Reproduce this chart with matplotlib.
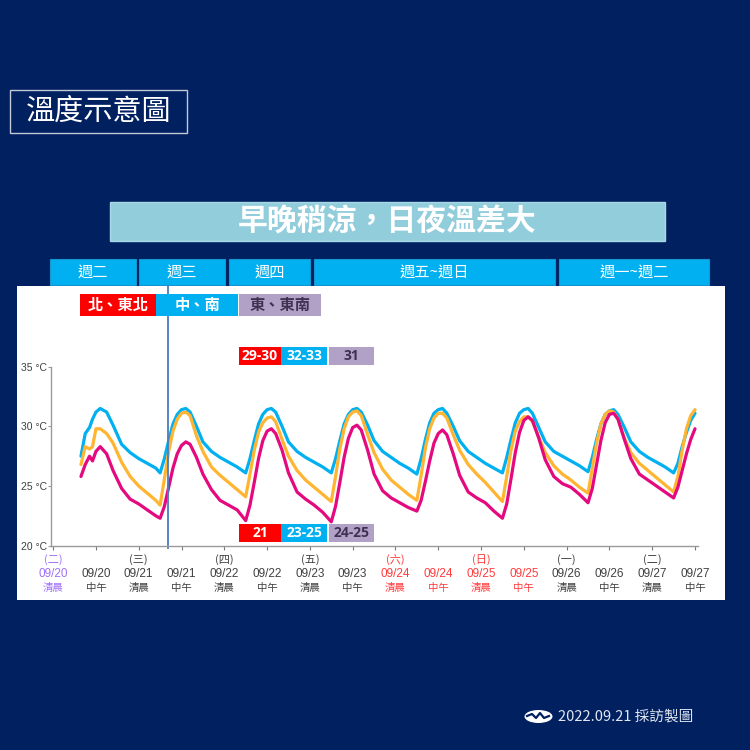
import matplotlib
matplotlib.use("Agg")
import matplotlib.pyplot as plt
from matplotlib.patches import Rectangle, Ellipse

plt.rcParams["font.family"] = ["Noto Sans CJK TC", "DejaVu Sans"]

NAVY = "#002060"
SKY = "#00b0f0"
ORANGE = "#ffb531"
MAGENTA = "#e5097f"
RED = "#ff0000"
LAVENDER = "#b2a1c7"
LAV_TEXT = "#403151"

# time axis in tick units (0 = 09/20 清晨, 1 = 09/20 中午, ...)
hours = [0.65, 0.75, 0.85, 0.92, 1.0, 1.1, 1.25, 1.4, 1.6, 1.8, 2.0, 2.2, 2.4,
         2.5, 2.6, 2.7, 2.8, 2.9, 3.0, 3.1, 3.2, 3.35, 3.5, 3.7, 3.9, 4.1, 4.3,
         4.5, 4.6, 4.7, 4.8, 4.9, 5.0, 5.1, 5.2, 5.35, 5.5, 5.7, 5.9, 6.1, 6.3,
         6.5, 6.6, 6.7, 6.8, 6.9, 7.0, 7.1, 7.2, 7.35, 7.5, 7.7, 7.9, 8.1, 8.3,
         8.5, 8.6, 8.7, 8.8, 8.9, 9.0, 9.1, 9.2, 9.35, 9.5, 9.7, 9.9, 10.1, 10.3,
         10.5, 10.6, 10.7, 10.8, 10.9, 11.0, 11.1, 11.2, 11.35, 11.5, 11.7, 11.9, 12.1, 12.3,
         12.5, 12.6, 12.7, 12.8, 12.9, 13.0, 13.1, 13.2, 13.35, 13.5, 13.7, 13.9, 14.1, 14.3,
         14.5, 14.6, 14.7, 14.8, 14.9, 15.0]

temp_central = [27.5, 29.4, 29.9, 30.6, 31.2, 31.5, 31.2, 30.1, 28.5, 27.8, 27.3, 26.9, 26.5,
                26.1, 27.3, 28.8, 30.2, 31.0, 31.4, 31.5, 31.2, 30.0, 28.7, 27.9, 27.4, 27.0, 26.6,
                26.1, 27.3, 28.8, 30.2, 31.0, 31.4, 31.5, 31.2, 30.0, 28.7, 27.9, 27.4, 27.0, 26.6,
                26.1, 27.3, 28.8, 30.2, 31.0, 31.4, 31.5, 31.2, 30.1, 28.8, 27.9, 27.4, 26.9, 26.5,
                26.0, 27.3, 28.9, 30.3, 31.1, 31.4, 31.5, 31.1, 30.0, 28.8, 27.9, 27.4, 26.9, 26.5,
                26.1, 27.4, 28.9, 30.3, 31.1, 31.4, 31.5, 31.1, 29.9, 28.7, 27.9, 27.5, 27.1, 26.7,
                26.2, 27.4, 28.9, 30.2, 31.0, 31.3, 31.4, 31.0, 29.9, 28.7, 27.9, 27.4, 27.0, 26.6,
                26.1, 26.9, 28.3, 29.5, 30.5, 31.1]

temp_east = [26.8, 28.3, 28.1, 28.3, 29.8, 29.8, 29.4, 28.6, 27.0, 25.8, 25.0, 24.4, 23.8,
             23.4, 25.6, 27.9, 29.6, 30.6, 31.1, 31.2, 30.9, 29.2, 27.9, 26.6, 25.9, 25.3, 24.7,
             24.1, 26.0, 28.0, 29.5, 30.3, 30.7, 30.8, 30.4, 28.9, 27.5, 26.3, 25.5, 24.9, 24.3,
             23.7, 25.8, 28.1, 29.8, 30.8, 31.2, 31.3, 30.9, 29.3, 27.8, 26.4, 25.5, 24.9, 24.3,
             23.8, 25.9, 28.2, 29.8, 30.7, 31.1, 31.1, 30.7, 29.3, 28.0, 26.8, 26.0, 25.3, 24.5,
             23.7, 25.8, 28.0, 29.6, 30.4, 30.8, 30.8, 30.4, 29.1, 27.8, 26.7, 26.0, 25.5, 24.9,
             24.4, 26.5, 28.6, 30.2, 31.0, 31.3, 31.2, 30.6, 29.0, 27.8, 26.9, 26.3, 25.7, 25.1,
             24.5, 25.8, 28.0, 29.8, 30.9, 31.4]

temp_north = [25.8, 26.8, 27.5, 27.1, 27.9, 28.3, 27.7, 26.3, 24.8, 23.9, 23.5, 23.0, 22.5,
              22.3, 23.3, 24.9, 26.5, 27.7, 28.4, 28.7, 28.5, 27.4, 26.0, 24.7, 23.8, 23.4, 23.0,
              22.1, 23.4, 25.3, 27.3, 28.8, 29.6, 29.8, 29.4, 28.0, 26.1, 24.5, 23.9, 23.4, 22.8,
              22.0, 23.3, 25.3, 27.4, 29.0, 29.9, 30.1, 29.7, 28.0, 26.0, 24.6, 24.0, 23.6, 23.2,
              22.9, 23.8, 25.4, 27.1, 28.6, 29.4, 29.7, 29.3, 27.7, 25.9, 24.5, 24.0, 23.6, 22.9,
              22.3, 23.5, 25.6, 27.8, 29.5, 30.5, 30.8, 30.5, 29.0, 27.2, 25.8, 25.2, 24.9, 24.3,
              23.6, 24.8, 26.8, 28.8, 30.3, 31.0, 31.1, 30.6, 28.9, 27.3, 26.0, 25.5, 25.0, 24.5,
              24.0, 24.9, 26.3, 27.7, 28.9, 29.8]

tick_weekday = ["(二)", "", "(三)", "", "(四)", "", "(五)", "", "(六)", "", "(日)", "", "(一)", "", "(二)", ""]
tick_date = ["09/20", "09/20", "09/21", "09/21", "09/22", "09/22", "09/23", "09/23",
             "09/24", "09/24", "09/25", "09/25", "09/26", "09/26", "09/27", "09/27"]
tick_part = ["清晨", "中午"] * 8
tick_colors = ["#a070f8"] + ["#404040"] * 7 + ["#ff3b3b"] * 4 + ["#404040"] * 4

y_ticks = [20, 25, 30, 35]
divider_t = 2.68  # 週二 / 週三 boundary line

weeks = ["週二", "週三", "週四", "週五~週日", "週一~週二"]
regions = ["北、東北", "中、南", "東、東南"]
high_ranges = ["29-30", "32-33", "31"]
low_ranges = ["21", "23-25", "24-25"]
region_colors = [RED, SKY, LAVENDER]
region_text = ["white", "white", LAV_TEXT]

W = H = 750
fig = plt.figure(figsize=(7.5, 7.5), dpi=100, facecolor=NAVY)

# background layer in pixel coordinates
bg = fig.add_axes([0, 0, 1, 1], zorder=0)
bg.set_xlim(0, W)
bg.set_ylim(H, 0)
bg.axis("off")
bg.set_facecolor(NAVY)

bg.add_patch(Rectangle((10, 90), 177, 43, facecolor="none", edgecolor="#c4c9d6", lw=1))
bg.text(98.5, 111.5, "溫度示意圖", color="white", fontsize=21, ha="center", va="center")

bg.add_patch(Rectangle((110, 202), 555, 39, facecolor="#92cddc", edgecolor="#a8d8e6", lw=1))
bg.text(387, 221.5, "早晚稍涼，日夜溫差大", color="white", fontsize=21.5,
        fontweight="bold", ha="center", va="center")

week_spans = [(50, 136), (139, 225), (229, 310), (314, 555), (559, 709)]
for (x0, x1), lab in zip(week_spans, weeks):
    bg.add_patch(Rectangle((x0, 259), x1 - x0, 26, facecolor=SKY, edgecolor="#1496d0", lw=0.8))
    bg.text((x0 + x1) / 2, 272, lab, color="white", fontsize=11, ha="center", va="center")

bg.add_patch(Rectangle((17, 286), 708, 314, facecolor="white", edgecolor="none"))

# footer
bg.add_patch(Ellipse((538.5, 716.5), 28, 13, facecolor="white", edgecolor="none"))
bg.plot([527, 532, 536, 540, 544, 549], [716, 714, 718, 713, 718, 716], color=NAVY, lw=1.6)
bg.text(558, 717, "2022.09.21 採訪製圖", color="#e2e8f2", fontsize=10.5, ha="left", va="center")

# data axes
ax = fig.add_axes([51 / W, (H - 545.7) / H, 647 / W, 179 / H], zorder=1)
ax.set_facecolor("none")
ax.plot(hours, temp_central, color=SKY, lw=2.3, solid_joinstyle="round", solid_capstyle="round")
ax.plot(hours, temp_east, color=ORANGE, lw=2.3, solid_joinstyle="round", solid_capstyle="round")
ax.plot(hours, temp_north, color=MAGENTA, lw=2.3, solid_joinstyle="round", solid_capstyle="round")
ax.axvline(divider_t, ymin=-0.015, ymax=1.45, color="#4a7cc0", lw=1.3, clip_on=False)

ax.set_xlim(-0.05, 15.07)
ax.set_ylim(20, 35)
for s in ("top", "right"):
    ax.spines[s].set_visible(False)
for s in ("left", "bottom"):
    ax.spines[s].set_color("#9a9a9a")
    ax.spines[s].set_linewidth(1.0)
ax.set_yticks(y_ticks)
ax.set_yticklabels([f"{v} °C" for v in y_ticks],
                   family=["Liberation Sans", "DejaVu Sans"], fontsize=7.5, color="#404040")
ax.tick_params(axis="y", length=2, width=0.8, color="#9a9a9a", pad=1)
ax.set_xticks(range(len(tick_date)))
ax.set_xticklabels([])
ax.tick_params(axis="x", length=3, width=0.8, color="#7a7a7a")

tf = ax.get_xaxis_transform()
lab_font = ["Liberation Sans", "Noto Sans CJK TC"]
for i in range(len(tick_date)):
    c = tick_colors[i]
    if tick_weekday[i]:
        ax.text(i, -0.08, tick_weekday[i], transform=tf, ha="center", va="center",
                fontsize=8, color=c, family=["Noto Sans CJK TC"])
    ax.text(i, -0.158, tick_date[i], transform=tf, ha="center", va="center",
            fontsize=8.5, color=c, family=lab_font)
    ax.text(i, -0.236, tick_part[i], transform=tf, ha="center", va="center",
            fontsize=7.5, color=c, family=["Noto Sans CJK TC"])

# overlay boxes (drawn above the divider line)
ov = fig.add_axes([0, 0, 1, 1], zorder=2)
ov.set_xlim(0, W)
ov.set_ylim(H, 0)
ov.axis("off")
ov.patch.set_alpha(0)

region_spans = [(80, 156), (156, 238), (239, 321)]
for (x0, x1), lab, fc, tc in zip(region_spans, regions, region_colors, region_text):
    ov.add_patch(Rectangle((x0, 294), x1 - x0, 22, facecolor=fc, edgecolor="none"))
    ov.text((x0 + x1) / 2, 305, lab, color=tc, fontsize=11, fontweight="bold",
            ha="center", va="center")

range_spans = [(239, 281), (281, 327), (329, 374)]
for (x0, x1), hi, lo, fc, tc in zip(range_spans, high_ranges, low_ranges, region_colors, region_text):
    ov.add_patch(Rectangle((x0, 347), x1 - x0, 18, facecolor=fc, edgecolor="none"))
    ov.text((x0 + x1) / 2, 356, hi, color=tc, fontsize=10, fontweight="bold",
            family=["Open Sans", "DejaVu Sans"], ha="center", va="center")
    ov.add_patch(Rectangle((x0, 524), x1 - x0, 18, facecolor=fc, edgecolor="none"))
    ov.text((x0 + x1) / 2, 533, lo, color=tc, fontsize=10, fontweight="bold",
            family=["Open Sans", "DejaVu Sans"], ha="center", va="center")

fig.savefig("out.png", dpi=100, facecolor=NAVY)
